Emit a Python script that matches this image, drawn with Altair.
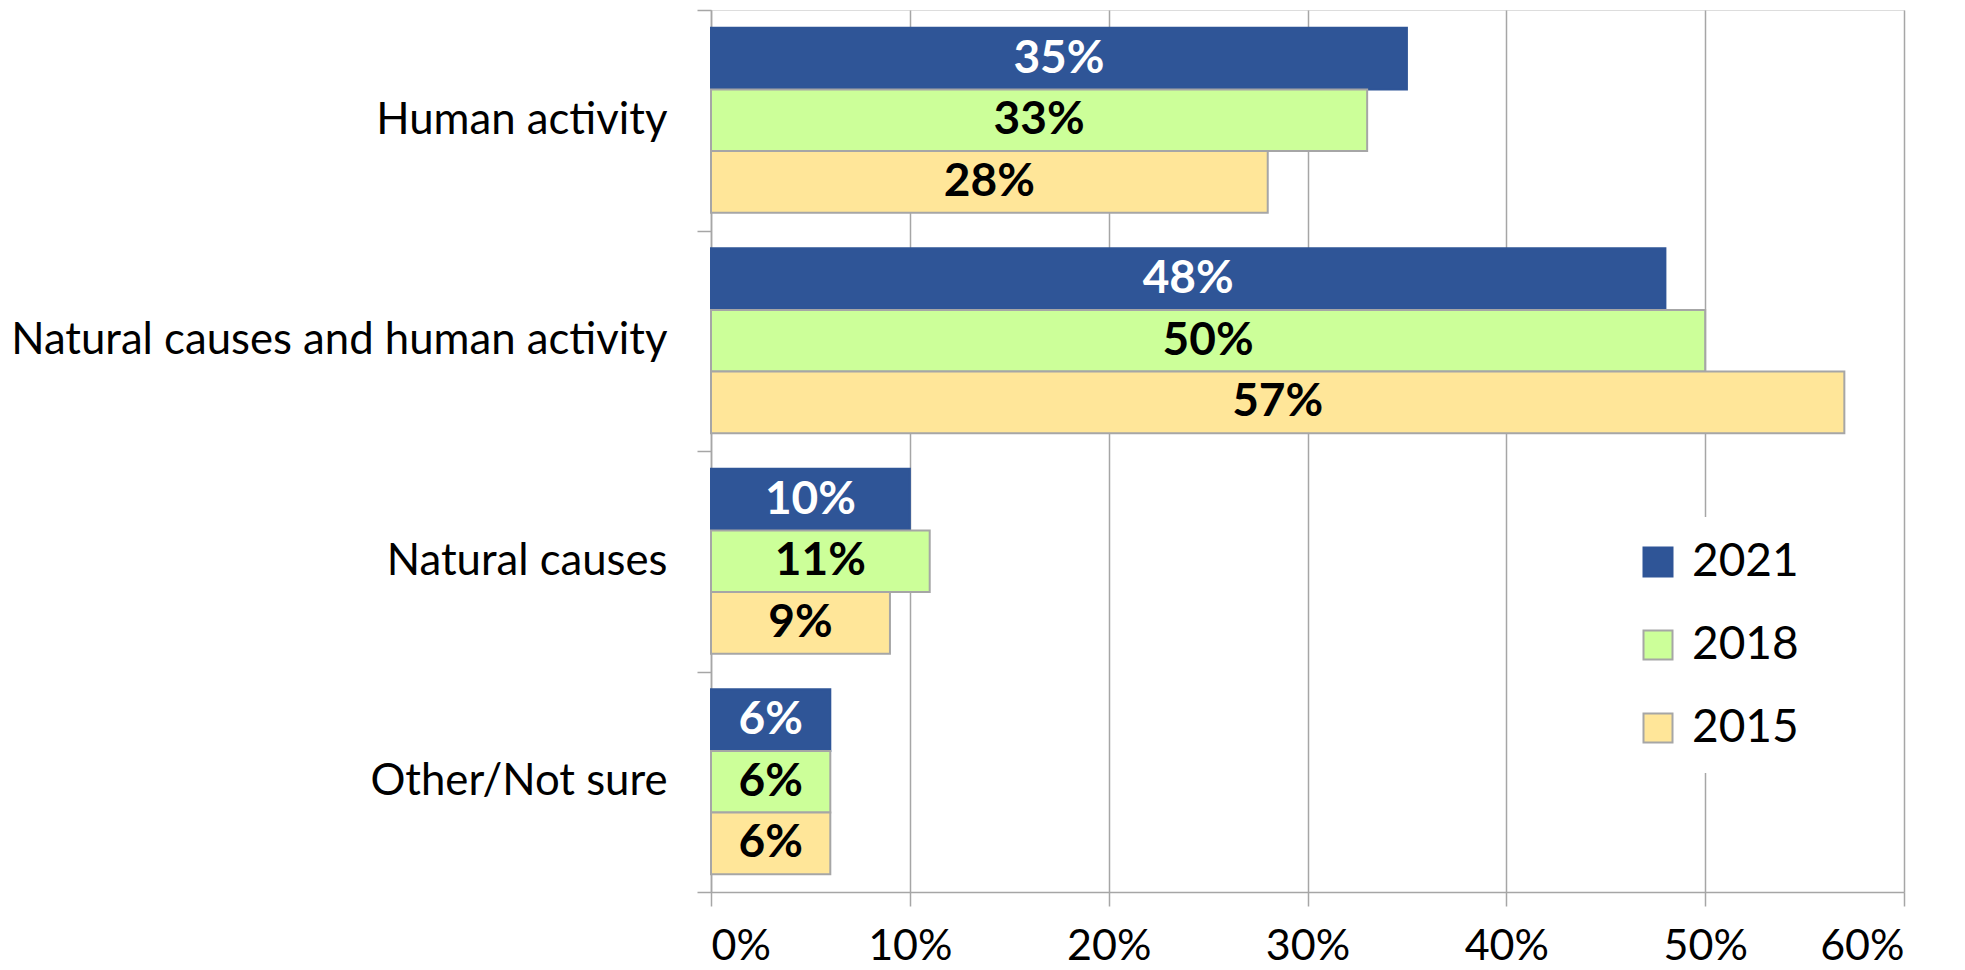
import altair as alt
import pandas as pd

categories = ["Human activity", "Natural causes and human activity", "Natural causes", "Other/Not sure"]
years = ["2021", "2018", "2015"]
values_2021 = [0.35, 0.48, 0.10, 0.06]
values_2018 = [0.33, 0.50, 0.11, 0.06]
values_2015 = [0.28, 0.57, 0.09, 0.06]
fill_colors = ["#2F5597", "#CCFF99", "#FFE699"]
stroke_colors = ["#2F5597", "#A6A6A6", "#A6A6A6"]
x_ticks = [0, 0.1, 0.2, 0.3, 0.4, 0.5, 0.6]

rows = []
for yr, vals in zip(years, [values_2021, values_2018, values_2015]):
    for c, v in zip(categories, vals):
        rows.append({"category": c, "year": yr, "value": v})
df = pd.DataFrame(rows)

FONT = "Lato"
GRAY = "#A6A6A6"

y_enc = alt.Y("category:N", sort=categories,
              scale=alt.Scale(paddingInner=0, paddingOuter=0),
              axis=alt.Axis(title=None, tickBand="extent", tickSize=14, tickColor=GRAY,
                            tickWidth=1.5, domainColor=GRAY, domainWidth=1.5,
                            labelFont=FONT, labelFontSize=43.7, labelColor="black",
                            labelPadding=30, labelLimit=1000, grid=False))
yoff_enc = alt.YOffset("year:N", sort=years,
                       scale=alt.Scale(paddingInner=0, paddingOuter=0.286))

bars = alt.Chart(df).mark_bar(strokeWidth=2).encode(
    x=alt.X("value:Q", scale=alt.Scale(domain=[0, 0.6], nice=False),
            axis=alt.Axis(title=None, format=".0%", values=x_ticks, tickSize=14,
                          tickColor=GRAY, tickWidth=1.5, domainColor=GRAY, domainWidth=1.5,
                          grid=True, gridColor=GRAY, gridWidth=1.5,
                          labelFont=FONT, labelFontSize=43, labelColor="black",
                          labelPadding=19)),
    y=y_enc,
    yOffset=yoff_enc,
    fill=alt.Fill("year:N", sort=years,
                  scale=alt.Scale(domain=years, range=fill_colors),
                  legend=alt.Legend(title=None, orient="none", legendX=902, legendY=507,
                                    fillColor="white", padding=22, symbolType="square",
                                    symbolSize=841, symbolStrokeWidth=2, rowPadding=37,
                                    labelFont=FONT, labelFontSize=46, labelColor="black",
                                    labelOffset=11)),
    stroke=alt.Stroke("year:N", sort=years,
                      scale=alt.Scale(domain=years, range=stroke_colors), legend=None),
)

labels = alt.Chart(df).transform_calculate(
    mid="datum.value / 2",
    label="format(datum.value, '.0%')"
).mark_text(font=FONT, fontSize=46, fontWeight="bold", align="center", baseline="middle").encode(
    x=alt.X("mid:Q"),
    y=alt.Y("category:N", sort=categories),
    yOffset=alt.YOffset("year:N", sort=years),
    text="label:N",
    color=alt.condition(alt.datum.year == "2021", alt.value("white"), alt.value("black")),
)

chart = alt.layer(bars, labels).properties(
    width=1193, height=882,
    autosize=alt.AutoSizeParams(type="none"),
    padding={"left": 703, "top": 2, "right": 50, "bottom": 75},
).configure_view(stroke=None).configure(background="white")

chart.save("out.html", embed_options={"renderer": "svg", "actions": False})
